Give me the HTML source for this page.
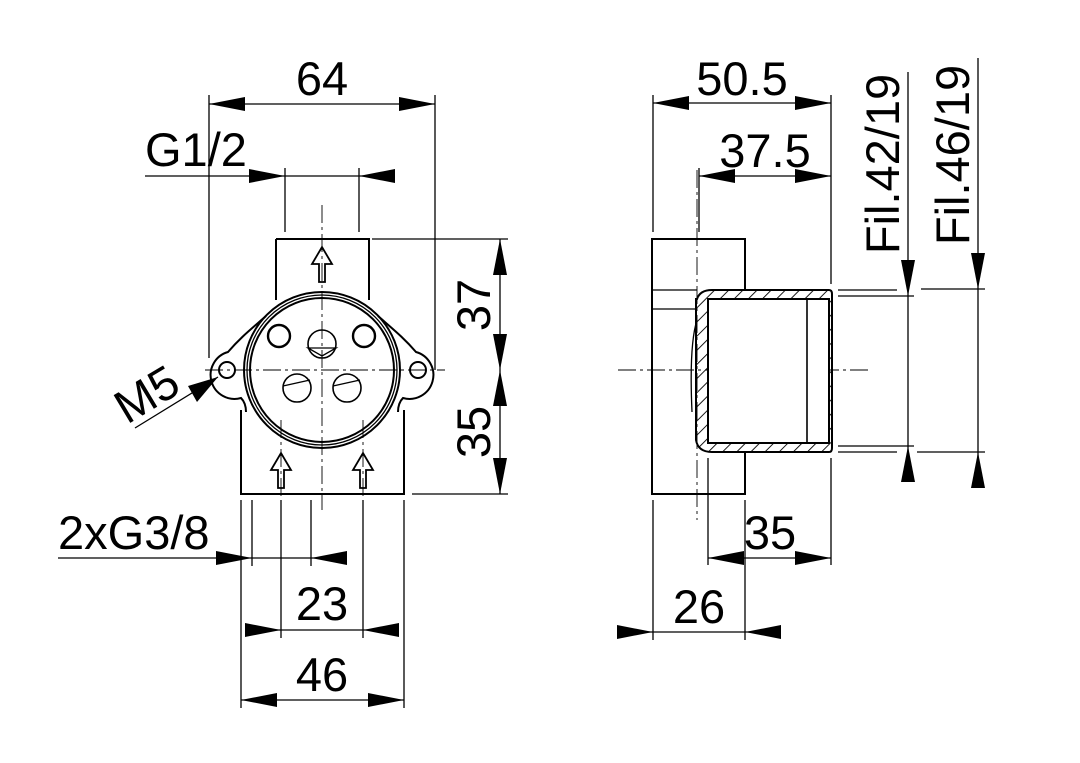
<!DOCTYPE html>
<html><head><style>html,body{margin:0;padding:0;background:#fff}svg{display:block}</style></head><body>
<svg width="1080" height="763" viewBox="0 0 1080 763" xmlns="http://www.w3.org/2000/svg" font-family="Liberation Sans, Arial, sans-serif">
<defs>
<pattern id="h" width="10" height="10" patternUnits="userSpaceOnUse" patternTransform="rotate(45)"><line x1="0" y1="0" x2="0" y2="10" stroke="#000" stroke-width="1.8"/></pattern>
</defs>
<g stroke="#000" stroke-width="1.3" fill="none">
<line x1="209" y1="95" x2="209" y2="358"/>
<line x1="435" y1="95" x2="435" y2="370"/>
<line x1="285" y1="168" x2="285" y2="232"/>
<line x1="359" y1="168" x2="359" y2="232"/>
<line x1="372" y1="239" x2="508" y2="239"/>
<line x1="412" y1="494" x2="508" y2="494"/>
<line x1="241" y1="500" x2="241" y2="708"/>
<line x1="404" y1="500" x2="404" y2="708"/>
<line x1="252" y1="500" x2="252" y2="566"/>
<line x1="311" y1="500" x2="311" y2="566"/>
<line x1="281" y1="500" x2="281" y2="638"/>
<line x1="363" y1="500" x2="363" y2="638"/>
<line x1="209" y1="104" x2="435" y2="104"/>
<line x1="145" y1="176" x2="395" y2="176"/>
<line x1="500" y1="239" x2="500" y2="494"/>
<line x1="58" y1="558" x2="346" y2="558"/>
<line x1="246" y1="630" x2="398" y2="630"/>
<line x1="241" y1="700" x2="404" y2="700"/>
<line x1="135" y1="428" x2="218" y2="377"/>
<g stroke-width="0.9" stroke-dasharray="18 4 3 4">
<line x1="322" y1="205" x2="322" y2="510"/>
<line x1="205" y1="370" x2="445" y2="370"/>
<line x1="281" y1="420" x2="281" y2="500"/>
<line x1="363" y1="420" x2="363" y2="500"/>
<line x1="618" y1="370" x2="870" y2="370"/>
<line x1="697" y1="170" x2="697" y2="520"/>
</g>
<path d="M276,239 H369 V300 M276,239 V300" stroke-width="2"/>
<path d="M241,410 V494 H404 V410" stroke-width="2"/>
<circle cx="322" cy="370" r="78" stroke-width="2"/>
<circle cx="322" cy="370" r="75"/>
<circle cx="322" cy="370" r="72" stroke-width="2"/>
<path d="M266,316 C250,330 240,338 228,352 A18,18 0 0 0 241,398 C245,402 246,408 246,412" stroke-width="2"/>
<path d="M378,316 C394,330 404,338 416,352 A18,18 0 0 1 403,398 C399,402 398,408 398,412" stroke-width="2"/>
<circle cx="227" cy="370" r="8" stroke-width="2"/>
<circle cx="418" cy="370" r="8" stroke-width="2"/>
<circle cx="279" cy="336" r="11" stroke-width="2.4"/>
<circle cx="364" cy="336" r="11" stroke-width="2.4"/>
<circle cx="322" cy="344" r="14" stroke-width="1.6"/>
<path d="M308,348 H336 L322,356 Z"/>
<circle cx="297" cy="388" r="14" stroke-width="1.6"/>
<path d="M283,386 L310,380"/>
<circle cx="347" cy="388" r="14" stroke-width="1.6"/>
<path d="M333,386 L360,380"/>
<path d="M319,282 V264 H312 L322,247 L332,264 H325 V282 Z" stroke-width="1.8"/>
<path d="M278,488 V470 H271 L281,453 L291,470 H284 V488 Z" stroke-width="1.8"/>
<path d="M360,488 V470 H353 L363,453 L373,470 H366 V488 Z" stroke-width="1.8"/>
<line x1="653" y1="95" x2="653" y2="232"/>
<line x1="831" y1="95" x2="831" y2="284"/>
<line x1="699" y1="168" x2="699" y2="232"/>
<line x1="653" y1="500" x2="653" y2="640"/>
<line x1="745" y1="500" x2="745" y2="640"/>
<line x1="708" y1="458" x2="708" y2="565"/>
<line x1="831" y1="458" x2="831" y2="565"/>
<line x1="653" y1="103" x2="831" y2="103"/>
<line x1="699" y1="176" x2="831" y2="176"/>
<line x1="708" y1="558" x2="831" y2="558"/>
<line x1="618" y1="632" x2="780" y2="632"/>
<line x1="908" y1="72" x2="908" y2="480"/>
<line x1="978" y1="58" x2="978" y2="487"/>
<line x1="838" y1="290" x2="897" y2="290"/>
<line x1="838" y1="296" x2="914" y2="296"/>
<line x1="838" y1="446" x2="914" y2="446"/>
<line x1="838" y1="452" x2="897" y2="452"/>
<line x1="921" y1="289" x2="985" y2="289"/>
<line x1="917" y1="452" x2="985" y2="452"/>
<line x1="653" y1="290" x2="697" y2="290"/>
<line x1="653" y1="309" x2="697" y2="309"/>
<path d="M745,290 V239 H652 V494 H745 V452" stroke-width="2"/>
<path d="M697,299 Q700,290 712,290 L829,290 Q832,290 832,294 V448 Q832,452 829,452 L712,452 Q698,452 696,440 L696,299 Z" fill="url(#h)" stroke-width="2"/>
<rect x="708" y="299" width="121" height="144" fill="#fff" stroke-width="2"/>
<line x1="807" y1="299" x2="807" y2="443" stroke-width="1.6"/>
<line x1="829" y1="299" x2="829" y2="443" stroke-width="1.6"/>
<path d="M697,320 Q689,345 692,412" stroke-width="1.3"/>
</g>
<g fill="#000">
<path d="M209,104 l36,-7 v14z"/><path d="M435,104 l-36,-7 v14z"/>
<path d="M285,176 l-36,-7 v14z"/><path d="M359,176 l36,-7 v14z"/>
<path d="M500,239 l-7,36 h14z"/><path d="M500,370 l-7,-36 h14z"/>
<path d="M500,370 l-7,36 h14z"/><path d="M500,494 l-7,-36 h14z"/>
<path d="M252,558 l-36,-7 v14z"/><path d="M311,558 l36,-7 v14z"/>
<path d="M281,630 l-36,-7 v14z"/><path d="M363,630 l36,-7 v14z"/>
<path d="M241,700 l36,-7 v14z"/><path d="M404,700 l-36,-7 v14z"/>
<path d="M218,377 L188,386 L197,402 Z"/>
<path d="M653,103 l36,-7 v14z"/><path d="M831,103 l-36,-7 v14z"/>
<path d="M699,176 l36,-7 v14z"/><path d="M831,176 l-36,-7 v14z"/>
<path d="M708,558 l36,-7 v14z"/><path d="M831,558 l-36,-7 v14z"/>
<path d="M653,632 l-36,-7 v14z"/><path d="M745,632 l36,-7 v14z"/>
<path d="M908,296 l-7,-36 h14z"/><path d="M908,446 l-7,36 h14z"/>
<path d="M978,289 l-7,-36 h14z"/><path d="M978,452 l-7,36 h14z"/>
</g>
<g font-size="47" fill="#000">
<text x="322" y="95" text-anchor="middle">64</text>
<text x="145" y="166">G1/2</text>
<text x="490" y="305" text-anchor="middle" transform="rotate(-90 490 305)">37</text>
<text x="490" y="432" text-anchor="middle" transform="rotate(-90 490 432)">35</text>
<text x="58" y="549">2xG3/8</text>
<text x="322" y="620" text-anchor="middle">23</text>
<text x="322" y="691" text-anchor="middle">46</text>
<text x="155" y="408" text-anchor="middle" transform="rotate(-31 155 408)">M5</text>
<text x="742" y="95" text-anchor="middle">50.5</text>
<text x="765" y="167" text-anchor="middle">37.5</text>
<text x="770" y="549" text-anchor="middle">35</text>
<text x="699" y="623" text-anchor="middle">26</text>
<text x="899" y="164" text-anchor="middle" transform="rotate(-90 899 164)">Fil.42/19</text>
<text x="969" y="155" text-anchor="middle" transform="rotate(-90 969 155)">Fil.46/19</text>
</g>
</svg>
</body></html>
